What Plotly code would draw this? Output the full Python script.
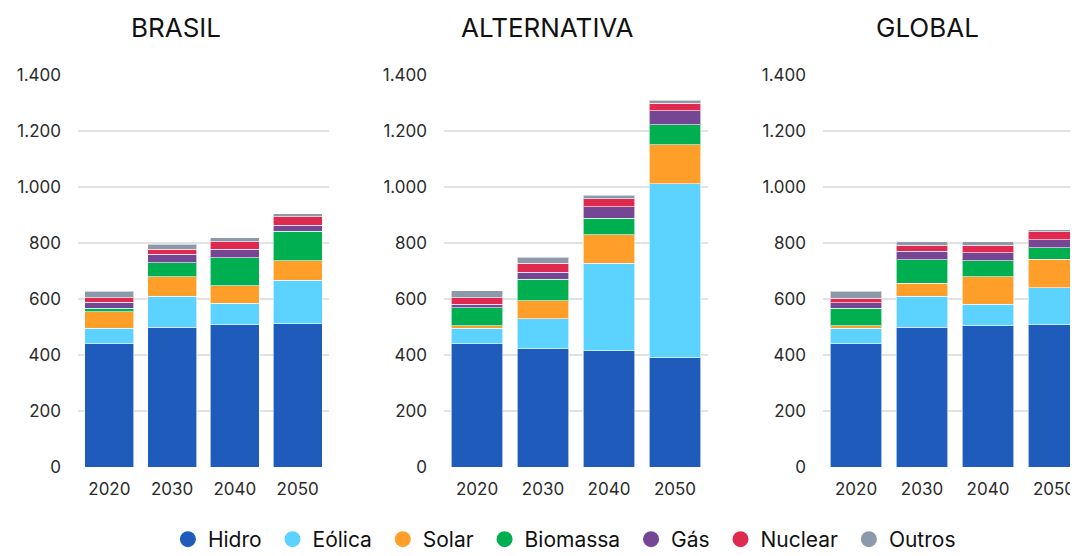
import plotly.graph_objects as go

years = ["2020", "2030", "2040", "2050"]
sources = ["Hidro", "Eólica", "Solar", "Biomassa", "Gás", "Nuclear", "Outros"]
colors = ["#1F5BBA", "#5BD2FF", "#FF9F29", "#00B050", "#744694", "#E0294F", "#8C99AA"]

# values per scenario, one list per source (2020, 2030, 2040, 2050)
brasil = {
    "Hidro":    [440, 500, 508, 511],
    "Eólica":   [55, 109, 76, 156],
    "Solar":    [60, 71, 64, 70],
    "Biomassa": [12, 49, 99, 105],
    "Gás":      [22, 31, 30, 22],
    "Nuclear":  [15, 18, 27, 29],
    "Outros":   [24, 17, 14, 11],
}
alternativa = {
    "Hidro":    [440, 423, 416, 391],
    "Eólica":   [55, 107, 311, 621],
    "Solar":    [10, 63, 102, 139],
    "Biomassa": [63, 77, 60, 72],
    "Gás":      [13, 26, 40, 50],
    "Nuclear":  [24, 32, 29, 26],
    "Outros":   [24, 21, 12, 11],
}
global_ = {
    "Hidro":    [440, 500, 505, 508],
    "Eólica":   [55, 109, 76, 132],
    "Solar":    [9, 47, 99, 102],
    "Biomassa": [63, 85, 57, 41],
    "Gás":      [20, 30, 28, 28],
    "Nuclear":  [16, 21, 27, 29],
    "Outros":   [25, 12, 12, 8],
}

panels = [("BRASIL", brasil), ("ALTERNATIVA", alternativa), ("GLOBAL", global_)]
# page body has an 8px margin, so the figure is sized to fit in what is left
domains = [[0.0654, 0.3000], [0.4075, 0.6542], [0.7617, 1.0]]
xranges = [[-0.5, 3.5], [-0.5, 3.5], [-0.5, 3.364]]
title_x = [0.1570, 0.5042, 0.8593]

font = "Inter"
txt = "#2b2b2b"

fig = go.Figure()

for i, (title, data) in enumerate(panels):
    xa = "x" if i == 0 else f"x{i + 1}"
    ya = "y" if i == 0 else f"y{i + 1}"
    for s, c in zip(sources, colors):
        fig.add_trace(go.Bar(
            x=years, y=data[s], name=s, xaxis=xa, yaxis=ya,
            marker=dict(color=c, line=dict(color="rgba(255,255,255,0.6)", width=1)),
            showlegend=False,
        ))
    key = "" if i == 0 else str(i + 1)
    fig.layout["xaxis" + key] = dict(
        domain=domains[i], range=xranges[i], anchor=ya, type="category",
        showgrid=False, zeroline=False, showline=False, ticks="",
        ticklabelstandoff=10,
        tickfont=dict(family=font, size=17, color=txt),
    )
    fig.layout["yaxis" + key] = dict(
        domain=[0, 1], range=[0, 1400], anchor=xa, dtick=200,
        tickformat=",d", showgrid=True, gridcolor="#e2e2e2", gridwidth=2,
        zeroline=False, showline=False, ticks="", ticklabelstandoff=16,
        tickfont=dict(family=font, size=17, color=txt),
    )
    fig.add_annotation(
        text=title, x=title_x[i], y=1.1224, xanchor="center",
        xref="paper", yref="paper", yanchor="middle", showarrow=False,
        font=dict(family=font, size=26, color="#111111"),
    )

# legend entries drawn as circles (a trailing space widens the gaps a bit)
for k, (s, c) in enumerate(zip(sources, colors)):
    label = s if k == len(sources) - 1 else s + "\u00a0"
    fig.add_trace(go.Scatter(
        x=[None], y=[None], mode="markers", name=label,
        marker=dict(color=c, size=17, symbol="circle"),
    ))

fig.update_layout(
    width=1070, height=548,
    margin=dict(l=0, r=0, t=67, b=89, autoexpand=False),
    barmode="stack", bargap=0.22,
    separators=",.",
    plot_bgcolor="white", paper_bgcolor="white",
    showlegend=True,
    legend=dict(
        orientation="h", traceorder="normal",
        x=0.52, xanchor="center", xref="container",
        y=0.03, yanchor="middle", yref="container",
        font=dict(family=font, size=21, color="#111111"),
        itemwidth=30,
    ),
)

fig.write_html("out.html")
